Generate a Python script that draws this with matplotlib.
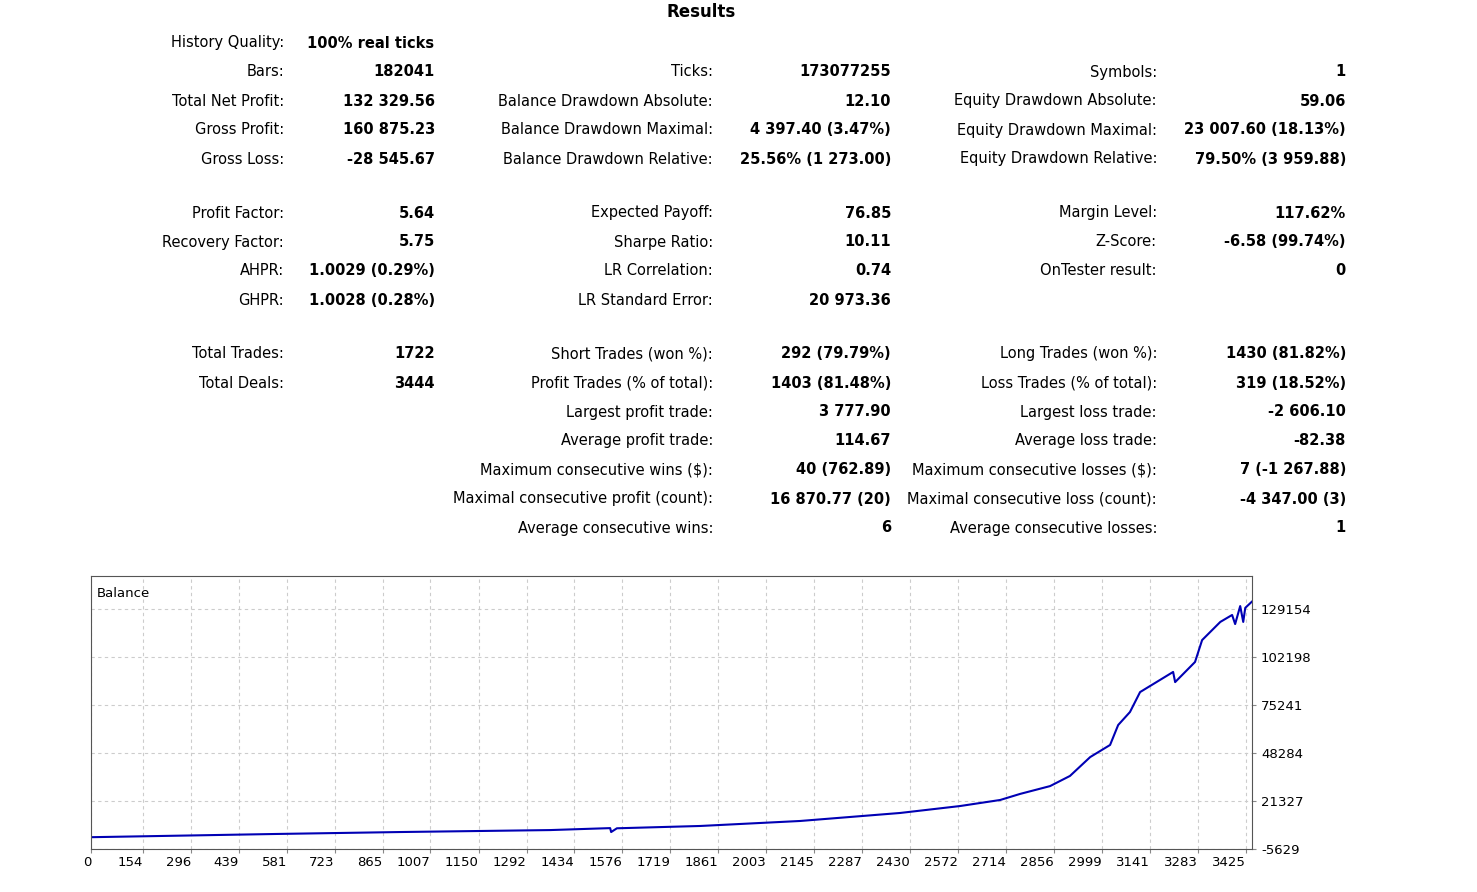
import matplotlib
matplotlib.use("Agg")
import matplotlib.pyplot as plt

W, H = 1477, 892
rows_y = [43, 72, 101, 130, 159, 213, 242, 271, 300, 354, 383, 412, 441, 470, 499, 528]

col1 = [("History Quality:", "100% real ticks"), ("Bars:", "182041"), ("Total Net Profit:", "132 329.56"),
        ("Gross Profit:", "160 875.23"), ("Gross Loss:", "-28 545.67"), ("Profit Factor:", "5.64"),
        ("Recovery Factor:", "5.75"), ("AHPR:", "1.0029 (0.29%)"), ("GHPR:", "1.0028 (0.28%)"),
        ("Total Trades:", "1722"), ("Total Deals:", "3444")]
col1_rows = [0, 1, 2, 3, 4, 5, 6, 7, 8, 9, 10]
col2 = [("Ticks:", "173077255"), ("Balance Drawdown Absolute:", "12.10"), ("Balance Drawdown Maximal:", "4 397.40 (3.47%)"),
        ("Balance Drawdown Relative:", "25.56% (1 273.00)"), ("Expected Payoff:", "76.85"), ("Sharpe Ratio:", "10.11"),
        ("LR Correlation:", "0.74"), ("LR Standard Error:", "20 973.36"), ("Short Trades (won %):", "292 (79.79%)"),
        ("Profit Trades (% of total):", "1403 (81.48%)"), ("Largest profit trade:", "3 777.90"),
        ("Average profit trade:", "114.67"), ("Maximum consecutive wins ($):", "40 (762.89)"),
        ("Maximal consecutive profit (count):", "16 870.77 (20)"), ("Average consecutive wins:", "6")]
col2_rows = [1, 2, 3, 4, 5, 6, 7, 8, 9, 10, 11, 12, 13, 14, 15]
col3 = [("Symbols:", "1"), ("Equity Drawdown Absolute:", "59.06"), ("Equity Drawdown Maximal:", "23 007.60 (18.13%)"),
        ("Equity Drawdown Relative:", "79.50% (3 959.88)"), ("Margin Level:", "117.62%"), ("Z-Score:", "-6.58 (99.74%)"),
        ("OnTester result:", "0"), ("Long Trades (won %):", "1430 (81.82%)"), ("Loss Trades (% of total):", "319 (18.52%)"),
        ("Largest loss trade:", "-2 606.10"), ("Average loss trade:", "-82.38"),
        ("Maximum consecutive losses ($):", "7 (-1 267.88)"), ("Maximal consecutive loss (count):", "-4 347.00 (3)"),
        ("Average consecutive losses:", "1")]
col3_rows = [1, 2, 3, 4, 5, 6, 7, 9, 10, 11, 12, 13, 14, 15]

deals = [0, 546, 917, 1362, 1540, 1543, 1560, 1807, 2103, 2400, 2578, 2697, 2756, 2845, 2904, 2964, 3023, 3047,
         3082, 3112, 3171, 3210, 3216, 3275, 3296, 3350, 3385, 3394, 3409, 3418, 3424, 3444]
balance = [1000, 2800, 3900, 5000, 6100, 3900, 6000, 7300, 10100, 14600, 18500, 21900, 25300, 29700, 35400, 46000,
           52800, 64000, 71300, 82500, 89300, 93800, 88100, 99400, 111700, 121900, 125800, 120700, 130800, 121900,
           129800, 133330]
x_ticks = [0, 154, 296, 439, 581, 723, 865, 1007, 1150, 1292, 1434, 1576, 1719, 1861, 2003, 2145, 2287, 2430,
           2572, 2714, 2856, 2999, 3141, 3283, 3425]
y_ticks = [-5629, 21327, 48284, 75241, 102198, 129154]

fig = plt.figure(figsize=(W / 100, H / 100), dpi=100)
plt.rcParams['font.family'] = ['DejaVu Sans']

def t(x, y, s, fs=10.5, **kw):
    fig.text(x / W, 1 - y / H, s, fontsize=fs, va='center', **kw)

t(701, 12, "Results", fs=12, ha='center', fontweight='bold')
for (lx, vx, col, rws) in [(284, 435, col1, col1_rows), (713, 891, col2, col2_rows), (1157, 1346, col3, col3_rows)]:
    for (lab, val), r in zip(col, rws):
        t(lx, rows_y[r], lab, ha='right')
        if lab == "History Quality:":
            t(307, rows_y[r], val, ha='left', fontweight='bold')
        else:
            t(vx, rows_y[r], val, ha='right', fontweight='bold')

ax = fig.add_axes([91 / W, 1 - 849 / H, (1252 - 91) / W, (849 - 576) / H])
ax.plot(deals, balance, color='#0000b4', lw=1.5)
ax.set_xlim(0, 3444)
step = 26957
ax.set_ylim(-5629, 129154 + step * 33 / 48)
ax.set_xticks(x_ticks)
ax.set_xticklabels([str(v) for v in x_ticks], ha='right', fontsize=9.5)
ax.set_yticks(y_ticks)
ax.set_yticklabels([str(v) for v in y_ticks], fontsize=9.5)
ax.yaxis.tick_right()
ax.tick_params(axis='both', length=3, color='#888888')
ax.tick_params(axis='x', pad=2)
ax.grid(True, linestyle=(0, (3, 3)), color='#cccccc', lw=0.8)
for s in ax.spines.values():
    s.set_color('#555555')
    s.set_linewidth(0.8)
ax.text(0.005, 0.96, "Balance", transform=ax.transAxes, fontsize=9.5, va='top')
fig.savefig("out.png", dpi=100)
